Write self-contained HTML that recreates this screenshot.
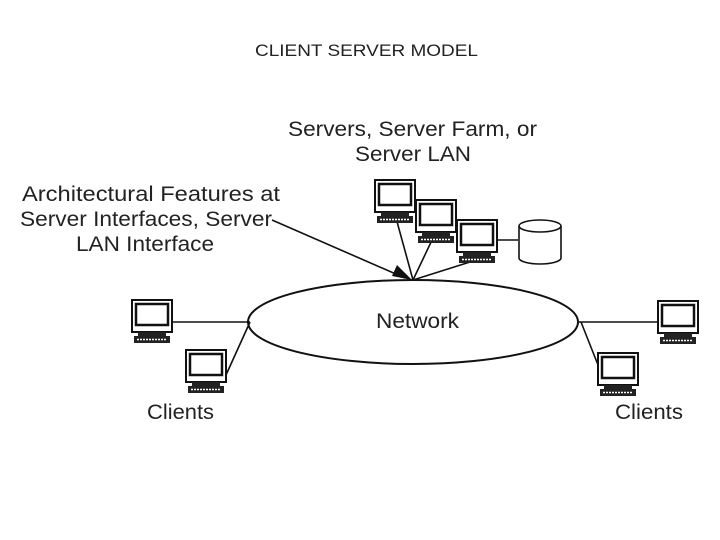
<!DOCTYPE html>
<html><head><style>
body{margin:0;width:720px;height:540px;background:#fff;overflow:hidden}
svg{position:absolute;left:0;top:0}
text{font-family:"Liberation Sans",sans-serif;fill:#222}
</style></head><body>
<svg width="720" height="540" viewBox="0 0 720 540">
<defs>
<g id="pc">
<rect x="0" y="0" width="40" height="32" fill="#fff" stroke="#111" stroke-width="2"/>
<rect x="4" y="4" width="32" height="21" fill="#fff" stroke="#111" stroke-width="2.5"/>
<rect x="6" y="32" width="28" height="4" fill="#222"/>
<rect x="2" y="36" width="36" height="7" fill="#222"/>
<line x1="5" y1="39.5" x2="35" y2="39.5" stroke="#fff" stroke-width="1.5" stroke-dasharray="2 1"/>
</g>
</defs>
<text x="255" y="56" font-size="17" textLength="223" lengthAdjust="spacingAndGlyphs">CLIENT SERVER MODEL</text>
<text x="288" y="136" font-size="21" textLength="249" lengthAdjust="spacingAndGlyphs">Servers, Server Farm, or</text>
<text x="355" y="161" font-size="21" textLength="116" lengthAdjust="spacingAndGlyphs">Server LAN</text>
<text x="22" y="201" font-size="21" textLength="258" lengthAdjust="spacingAndGlyphs">Architectural Features at</text>
<text x="20" y="226" font-size="21" textLength="252" lengthAdjust="spacingAndGlyphs">Server Interfaces, Server</text>
<text x="76" y="251" font-size="21" textLength="138" lengthAdjust="spacingAndGlyphs">LAN Interface</text>
<text x="376" y="328" font-size="21" textLength="83" lengthAdjust="spacingAndGlyphs">Network</text>
<text x="147" y="419" font-size="21" textLength="67" lengthAdjust="spacingAndGlyphs">Clients</text>
<text x="615" y="419" font-size="21" textLength="68" lengthAdjust="spacingAndGlyphs">Clients</text>
<ellipse cx="413" cy="322" rx="165" ry="42" fill="none" stroke="#111" stroke-width="2"/>
<g stroke="#111" stroke-width="1.6">
<line x1="272" y1="220" x2="405" y2="278"/>
<line x1="396" y1="218" x2="413" y2="280"/>
<line x1="433" y1="238" x2="413" y2="280"/>
<line x1="470" y1="262" x2="413" y2="280"/>
<line x1="498" y1="240" x2="518" y2="240"/>
<line x1="172" y1="322" x2="250" y2="322"/>
<line x1="226" y1="375" x2="250" y2="322"/>
<line x1="577" y1="322" x2="658" y2="322"/>
<line x1="581" y1="322" x2="600" y2="370"/>
</g>
<polygon points="412,280 397,265 392,276" fill="#111"/>
<use href="#pc" x="375" y="180"/>
<use href="#pc" x="416" y="200"/>
<use href="#pc" x="457" y="220"/>
<use href="#pc" x="132" y="300"/>
<use href="#pc" x="186" y="350"/>
<use href="#pc" x="658" y="301"/>
<use href="#pc" x="598" y="353"/>
<path d="M519,226 L519,258 A21,6 0 0 0 561,258 L561,226" fill="#fff" stroke="#111" stroke-width="1.6"/>
<ellipse cx="540" cy="226" rx="21" ry="6" fill="#fff" stroke="#111" stroke-width="1.6"/>
</svg>
</body></html>
